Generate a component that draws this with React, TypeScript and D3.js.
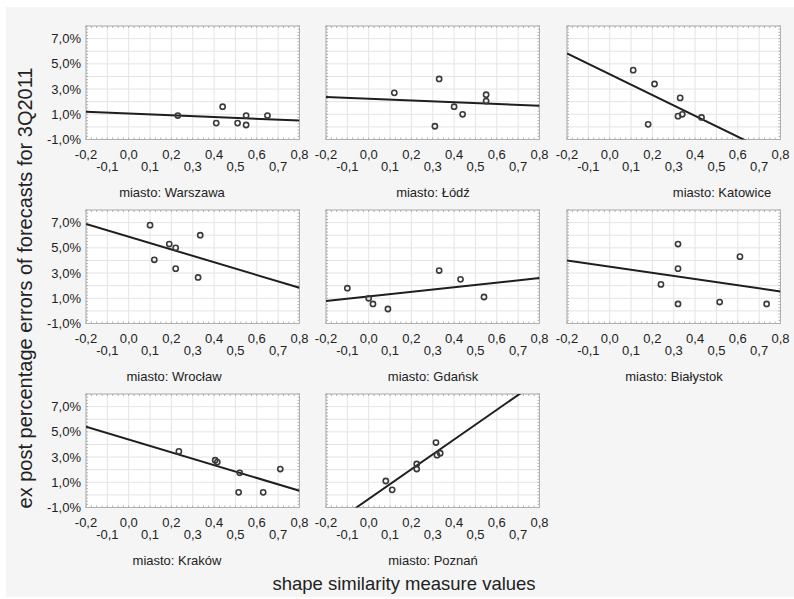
import React from "react";
import * as d3 from "d3";

const cities = ["Warszawa", "Łódź", "Katowice", "Wrocław", "Gdańsk", "Białystok", "Kraków", "Poznań"];

const xWarszawa = [0.23, 0.41, 0.44, 0.51, 0.55, 0.55, 0.65];
const yWarszawa = [0.9, 0.3, 1.6, 0.3, 0.9, 0.15, 0.9];
const xLodz = [0.12, 0.33, 0.31, 0.4, 0.44, 0.55, 0.55];
const yLodz = [2.7, 3.8, 0.05, 1.6, 1.0, 2.55, 2.05];
const xKatowice = [0.11, 0.21, 0.18, 0.32, 0.33, 0.34, 0.43];
const yKatowice = [4.5, 3.4, 0.2, 0.85, 2.3, 1.0, 0.75];
const xWroclaw = [0.1, 0.12, 0.19, 0.22, 0.22, 0.335, 0.325];
const yWroclaw = [6.8, 4.05, 5.3, 5.0, 3.35, 6.0, 2.65];
const xGdansk = [-0.1, 0.0, 0.02, 0.09, 0.33, 0.43, 0.54];
const yGdansk = [1.8, 1.0, 0.55, 0.15, 3.2, 2.5, 1.1];
const xBialystok = [0.32, 0.61, 0.32, 0.24, 0.32, 0.515, 0.735];
const yBialystok = [5.3, 4.3, 3.35, 2.1, 0.55, 0.7, 0.55];
const xKrakow = [0.235, 0.405, 0.415, 0.52, 0.515, 0.63, 0.71];
const yKrakow = [3.45, 2.75, 2.6, 1.75, 0.2, 0.2, 2.05];
const xPoznan = [0.08, 0.11, 0.225, 0.225, 0.315, 0.32, 0.335];
const yPoznan = [1.1, 0.4, 2.45, 2.05, 4.15, 3.15, 3.3];

const xSeries = [xWarszawa, xLodz, xKatowice, xWroclaw, xGdansk, xBialystok, xKrakow, xPoznan];
const ySeries = [yWarszawa, yLodz, yKatowice, yWroclaw, yGdansk, yBialystok, yKrakow, yPoznan];

// regression line values at x = -0.2 and x = 0.8
const fitAtMin = [1.2, 2.37, 5.82, 6.9, 0.79, 4.0, 5.4, -2.68];
const fitAtMax = [0.5, 1.68, -2.43, 1.83, 2.6, 1.54, 0.33, 9.1];

const xDomain = [-0.2, 0.8];
const yDomain = [-1, 8];
const xTicks = [-0.2, -0.1, 0.0, 0.1, 0.2, 0.3, 0.4, 0.5, 0.6, 0.7, 0.8];
const yTicks = [-1, 1, 3, 5, 7];
const yGrid = [-1, 0, 1, 2, 3, 4, 5, 6, 7, 8];

const yTitle = "ex post percentage errors of forecasts for 3Q2011";
const xTitle = "shape similarity measure values";

// layout
const colLeft = [86, 326, 567];
const rowTop = [26, 210, 394];
const PW = 213.5;
const PH = 113.5;
const labelCenter = [172, 433, 722, 174, 433, 674, 177, 433];

const locale = d3.formatLocale({
  decimal: ",",
  thousands: " ",
  grouping: [3],
  currency: ["", ""],
  minus: "-",
});
const fmt = locale.format(".1f");

const FONT = "'Liberation Sans', Arial, sans-serif";

function Panel({ i }: { i: number }) {
  const col = i % 3;
  const row = Math.floor(i / 3);
  const left = colLeft[col];
  const top = rowTop[row];
  const x = d3.scaleLinear().domain(xDomain).range([left, left + PW]);
  const y = d3.scaleLinear().domain(yDomain).range([top + PH, top]);
  const minorX = d3.range(-0.2, 0.8001, 0.025);
  const minorY = d3.range(-1, 8.0001, 0.25);
  const clipId = `clip${i}`;
  const line = d3
    .line<[number, number]>()
    .x((d) => x(d[0]))
    .y((d) => y(d[1]));
  const fit: [number, number][] = [
    [xDomain[0], fitAtMin[i]],
    [xDomain[1], fitAtMax[i]],
  ];
  const bottom = top + PH;
  return (
    <g>
      <defs>
        <clipPath id={clipId}>
          <rect x={left} y={top} width={PW} height={PH} />
        </clipPath>
      </defs>
      <rect x={left} y={top} width={PW} height={PH} fill="#ffffff" />
      {xTicks.map((t, k) => (
        <line key={"gx" + k} x1={x(t)} x2={x(t)} y1={top} y2={bottom} stroke="#e4e4e4" strokeWidth={1} />
      ))}
      {yGrid.map((t, k) => (
        <line key={"gy" + k} x1={left} x2={left + PW} y1={y(t)} y2={y(t)} stroke="#e4e4e4" strokeWidth={1} />
      ))}
      {minorX.map((t, k) => (
        <g key={"mx" + k}>
          <line x1={x(t)} x2={x(t)} y1={top} y2={top + 2} stroke="#9a9a9a" strokeWidth={0.8} />
          <line x1={x(t)} x2={x(t)} y1={bottom} y2={bottom - 2} stroke="#9a9a9a" strokeWidth={0.8} />
        </g>
      ))}
      {minorY.map((t, k) => (
        <g key={"my" + k}>
          <line x1={left} x2={left + 2} y1={y(t)} y2={y(t)} stroke="#9a9a9a" strokeWidth={0.8} />
          <line x1={left + PW} x2={left + PW - 2} y1={y(t)} y2={y(t)} stroke="#9a9a9a" strokeWidth={0.8} />
        </g>
      ))}
      <rect x={left} y={top} width={PW} height={PH} fill="none" stroke="#b0b0b0" strokeWidth={1} />
      <path d={line(fit) || ""} stroke="#1e1e1e" strokeWidth={2} fill="none" clipPath={`url(#${clipId})`} />
      {xSeries[i].map((xv, k) => (
        <circle key={"p" + k} cx={x(xv)} cy={y(ySeries[i][k])} r={2.6} fill="none" stroke="#3a3a3a" strokeWidth={1.6} />
      ))}
      {xTicks.map((t, k) => (
        <text
          key={"xt" + k}
          x={x(t)}
          y={bottom + (k % 2 === 0 ? 19 : 31)}
          textAnchor="middle"
          fontSize={13}
          fontFamily={FONT}
          fill="#222"
        >
          {fmt(t)}
        </text>
      ))}
      {col === 0 &&
        yTicks.map((t, k) => (
          <text
            key={"yt" + k}
            x={left - 5}
            y={y(t) + 4.5}
            textAnchor="end"
            fontSize={13}
            fontFamily={FONT}
            fill="#222"
          >
            {fmt(t) + "%"}
          </text>
        ))}
      <text x={labelCenter[i]} y={bottom + 57} textAnchor="middle" fontSize={13} fontFamily={FONT} fill="#222">
        {"miasto: " + cities[i]}
      </text>
    </g>
  );
}

export default function App() {
  return (
    <svg
      width={794}
      height={599}
      style={{ position: "absolute", left: 0, top: 0, display: "block" }}
    >
      <rect x={0} y={0} width={794} height={599} fill="#ffffff" />
      <rect x={6} y={7} width={788} height={590} fill="#f5f5f5" />
      {cities.map((_, i) => (
        <Panel key={i} i={i} />
      ))}
      <text
        transform="translate(32,288) rotate(-90)"
        textAnchor="middle"
        fontSize={20}
        fontFamily={FONT}
        fill="#222"
      >
        {yTitle}
      </text>
      <text x={404} y={590} textAnchor="middle" fontSize={18.5} fontFamily={FONT} fill="#222">
        {xTitle}
      </text>
    </svg>
  );
}
